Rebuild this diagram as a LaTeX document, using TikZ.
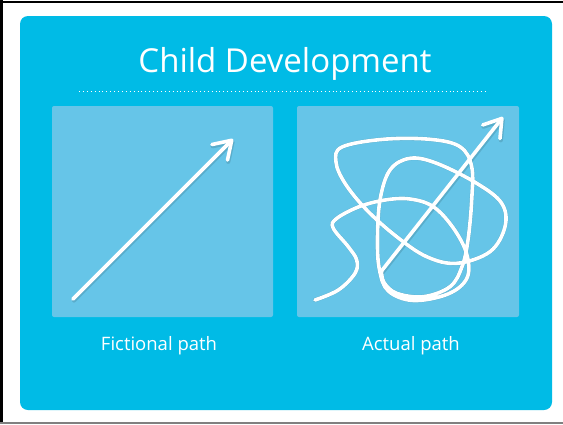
\documentclass[tikz,border=0pt]{standalone}
\usepackage{fontspec}
\setmainfont{Open Sans}
\usetikzlibrary{arrows.meta}
\definecolor{bgblue}{RGB}{0,187,230}
\definecolor{panelblue}{RGB}{102,197,232}
\tikzset{
  panel/.style={fill=panelblue, draw=none, rounded corners=2pt},
  pathline/.style={draw=white, line width=3.6pt, line cap=round, line join=round},
  shadowline/.style={draw=black, draw opacity=0.12, line width=4.2pt, line cap=round, line join=round},
  tipped/.style={-{Straight Barb[length=17pt,width=22pt,round]}},
  label/.style={text=white, font=\fontsize{18.5}{22}\selectfont, anchor=base},
}
\begin{document}
\begin{tikzpicture}[x=1pt,y=-1pt]
\useasboundingbox (0,0) rectangle (563,424);
\fill[white] (0,0) rectangle (563,424);
% frame lines
\draw[black, line width=2pt] (0,1.5) -- (563,1.5);
\draw[black, line width=3pt] (1.5,0) -- (1.5,424);
\draw[gray, line width=2pt] (0,422.8) -- (563,422.8);
% main card
\fill[bgblue, rounded corners=8pt] (20,16) rectangle (552,410);
% title
\node[text=white, font=\fontsize{33}{38}\selectfont, anchor=base] (title) at (285,72) {Child Development};
\coordinate (ruleL) at (79,91.5);
\coordinate (ruleR) at (488,91.5);
\draw[white, line width=0.9pt, dash pattern=on 0.9pt off 3pt] (ruleL) -- (ruleR);
% panels
\fill[panel] (52,106) rectangle (273,317);
\fill[panel] (297,106) rectangle (519,317);
% fictional path
\coordinate (fstart) at (73,299);
\coordinate (fend) at (233,139);
\draw[shadowline, tipped] ([shift={(1,1.5)}]fstart) -- ([shift={(1,1.5)}]fend);
\draw[pathline, tipped] (fstart) -- (fend);
% actual path
\coordinate (astart) at (381.5,271);
\coordinate (aend) at (503,117);
\def\scribble{(315,300) (338.3,290) (355,273.3) (356.7,260) (348.3,246.7) (333.3,228.3) (336,219) (358.3,207) (385,200) (410,199) (433.3,206.7) (453.3,228) (466.7,254) (467,278) (448,294) (413.3,300.5) (388.3,291) (379.5,270) (377.5,240) (380,200) (390,170) (410,158.3) (436.7,163.3) (476.7,183.3) (501.7,203.3) (505,226.7) (490,251.7) (456.7,263.3) (426.7,256.7) (396.7,236.7) (366.7,210) (345,183.3) (336,162) (342,147) (383.3,139.3) (430,139.3) (460,146.7) (471.7,166.7) (471.7,200) (468,240) (462,266.7) (450,286.7) (423.3,296.7) (396.7,293.3) (384,282.5) (381.5,271)}
\draw[shadowline] plot[smooth, tension=0.6] coordinates {\scribble};
\draw[shadowline, tipped] ([shift={(1,1.5)}]astart) -- ([shift={(1,1.5)}]aend);
\draw[pathline] plot[smooth, tension=0.6] coordinates {\scribble};
\draw[pathline, tipped] (astart) -- (aend);
% labels
\node[label] (flabel) at (159,350) {Fictional path};
\node[label] (alabel) at (411,350) {Actual path};
\end{tikzpicture}
\end{document}
